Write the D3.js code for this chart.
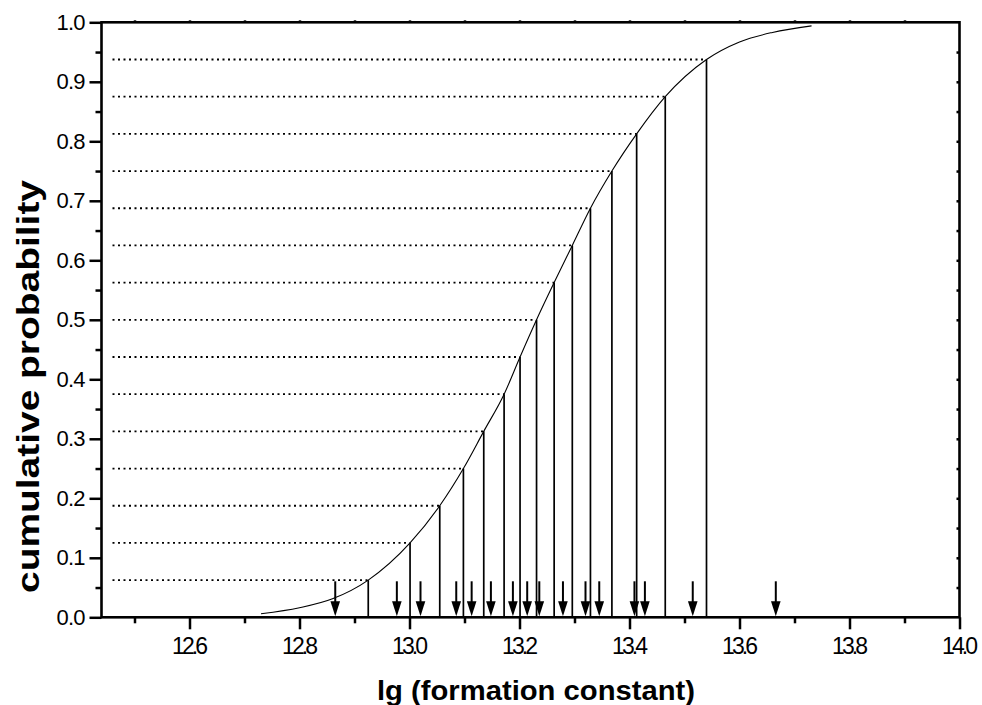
<!DOCTYPE html>
<html>
<head>
<meta charset="utf-8">
<script src="https://cdn.jsdelivr.net/npm/d3@7"></script>
<style>
  body { margin: 0; background: #fff; }
  svg { display: block; font-family: "Liberation Sans", Arial, sans-serif; }
</style>
</head>
<body>
<div id="chart"></div>
<script>
// cumulative levels (dotted lines) and where the fitted curve reaches them
const levels = [0.0625, 0.125, 0.1875, 0.25, 0.3125, 0.375, 0.4375, 0.5,
                0.5625, 0.625, 0.6875, 0.75, 0.8125, 0.875, 0.9375];
const levelX = [12.925, 13.001, 13.055, 13.098, 13.135, 13.172, 13.201, 13.231,
                13.263, 13.296, 13.329, 13.368, 13.413, 13.465, 13.540];

// fitted curve
const curveX = [12.73, 12.80, 12.86].concat(levelX, [13.60, 13.66, 13.731]);
const curveP = [0.006, 0.016, 0.031].concat(levels, [0.967, 0.983, 0.994]);

// measured values (arrows)
const measured = [12.865, 12.977, 13.020, 13.085, 13.113, 13.148, 13.188, 13.214,
                  13.236, 13.279, 13.320, 13.345, 13.409, 13.428, 13.515, 13.666];

const xTicks = [12.6, 12.8, 13.0, 13.2, 13.4, 13.6, 13.8, 14.0];
const xMinor = [12.5, 12.7, 12.9, 13.1, 13.3, 13.5, 13.7, 13.9];
const yTicks = [0, 0.1, 0.2, 0.3, 0.4, 0.5, 0.6, 0.7, 0.8, 0.9, 1.0];
const yMinor = [0.05, 0.15, 0.25, 0.35, 0.45, 0.55, 0.65, 0.75, 0.85, 0.95];
const topTicks = [12.5, 12.6, 12.7, 12.8, 12.9, 13.0, 13.1, 13.2, 13.3, 13.4,
                  13.5, 13.6, 13.7, 13.8, 13.9];
const rightTicks = [0.05, 0.1, 0.15, 0.2, 0.25, 0.3, 0.35, 0.4, 0.45, 0.5,
                    0.55, 0.6, 0.65, 0.7, 0.75, 0.8, 0.85, 0.9, 0.95];

const width = 982, height = 705;
const plotLeft = 101.5, plotRight = 959.5, plotTop = 22.3, plotBottom = 617.3;

const svg = d3.select("#chart").append("svg")
  .attr("width", width)
  .attr("height", height);

const x = d3.scaleLinear().domain([12.44, 14.0]).range([plotLeft, plotRight]);
const y = d3.scaleLinear().domain([0, 1]).range([plotBottom, plotTop]);

// dotted level lines
svg.append("g").selectAll("line")
  .data(levels)
  .join("line")
  .attr("x1", x(12.46))
  .attr("x2", (d, i) => x(levelX[i]))
  .attr("y1", d => y(d))
  .attr("y2", d => y(d))
  .attr("stroke", "#000")
  .attr("stroke-width", 1.8)
  .attr("stroke-dasharray", "2,3.5");

// vertical drop lines
svg.append("g").selectAll("line")
  .data(levels)
  .join("line")
  .attr("x1", (d, i) => x(levelX[i]))
  .attr("x2", (d, i) => x(levelX[i]))
  .attr("y1", y(0))
  .attr("y2", d => y(d))
  .attr("stroke", "#000")
  .attr("stroke-width", 1.7);

// curve
const line = d3.line()
  .x((d, i) => x(curveX[i]))
  .y(d => y(d))
  .curve(d3.curveMonotoneX);

svg.append("path")
  .datum(curveP)
  .attr("fill", "none")
  .attr("stroke", "#000")
  .attr("stroke-width", 1.1)
  .attr("d", line);

// arrows
const arrows = svg.append("g").selectAll("g")
  .data(measured)
  .join("g")
  .attr("transform", d => "translate(" + x(d) + "," + y(0) + ")");

arrows.append("line")
  .attr("y1", -36)
  .attr("y2", -12)
  .attr("stroke", "#000")
  .attr("stroke-width", 2);

arrows.append("path")
  .attr("d", "M-4.8,-16L4.8,-16L0,-1Z")
  .attr("fill", "#000");

// axes
const yAxis = svg.append("g")
  .attr("transform", "translate(" + plotLeft + ",0)")
  .call(d3.axisLeft(y).tickValues(yTicks).tickSize(12).tickPadding(4)
    .tickFormat(d3.format(".1f")));

svg.append("g")
  .attr("transform", "translate(" + plotLeft + ",0)")
  .call(d3.axisLeft(y).tickValues(yMinor).tickSize(6).tickFormat(""));

const xAxis = svg.append("g")
  .attr("transform", "translate(0," + plotBottom + ")")
  .call(d3.axisBottom(x).tickValues(xTicks).tickSize(12).tickPadding(8)
    .tickFormat(d3.format(".1f")));

svg.append("g")
  .attr("transform", "translate(0," + plotBottom + ")")
  .call(d3.axisBottom(x).tickValues(xMinor).tickSize(6).tickFormat(""));

svg.append("g")
  .attr("transform", "translate(0," + plotTop + ")")
  .call(d3.axisTop(x).tickValues(topTicks).tickSize(2).tickFormat(""));

svg.append("g")
  .attr("transform", "translate(" + plotRight + ",0)")
  .call(d3.axisLeft(y).tickValues(rightTicks).tickSize(3).tickFormat(""));

svg.selectAll(".domain").remove();
svg.selectAll(".tick line").attr("stroke", "#000").attr("stroke-width", 2.5);

yAxis.selectAll("text")
  .style("font-size", "22px")
  .attr("fill", "#000")
  .attr("textLength", 29)
  .attr("lengthAdjust", "spacing");

xAxis.selectAll("text")
  .style("font-size", "23px")
  .attr("fill", "#000")
  .attr("textLength", 36)
  .attr("lengthAdjust", "spacing");

// frame
svg.append("rect")
  .attr("x", plotLeft)
  .attr("y", plotTop)
  .attr("width", plotRight - plotLeft)
  .attr("height", plotBottom - plotTop)
  .attr("fill", "none")
  .attr("stroke", "#000")
  .attr("stroke-width", 2.6);

// axis titles
svg.append("text")
  .attr("x", 377)
  .attr("y", 700)
  .style("font-size", "28px")
  .style("font-weight", "bold")
  .attr("textLength", 318)
  .attr("lengthAdjust", "spacingAndGlyphs")
  .text("lg (formation constant)");

svg.append("text")
  .attr("transform", "translate(39,593) rotate(-90)")
  .style("font-size", "31px")
  .style("font-weight", "bold")
  .attr("textLength", 413)
  .attr("lengthAdjust", "spacingAndGlyphs")
  .text("cumulative probability");
</script>
</body>
</html>
